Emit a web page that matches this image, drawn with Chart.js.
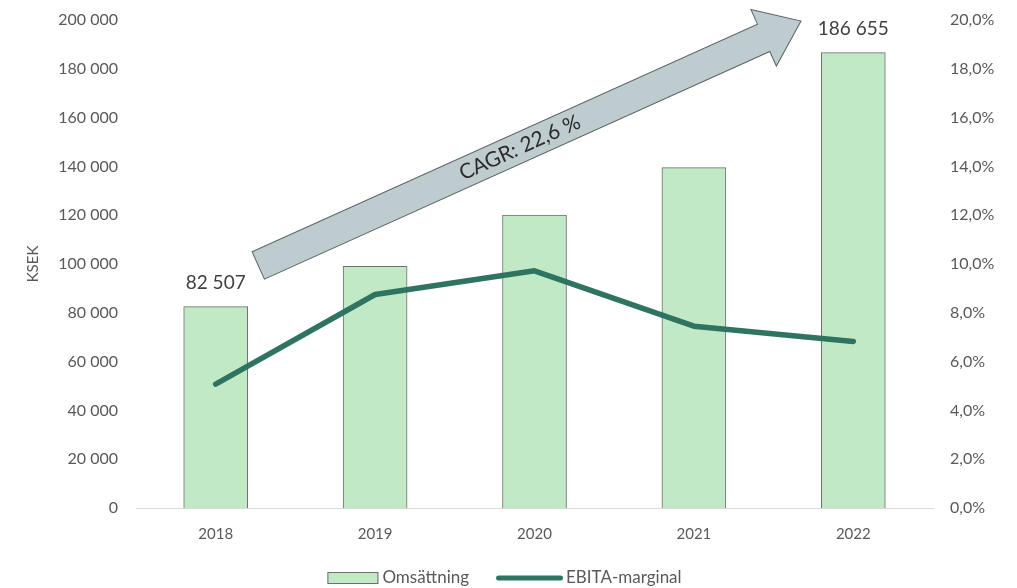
<!DOCTYPE html>
<html lang="sv">
<head>
  <meta charset="UTF-8" />
  <title>Omsättning och EBITA-marginal</title>
  <script src="https://cdn.jsdelivr.net/npm/chart.js"></script>
  <style>
    html, body { margin: 0; padding: 0; background: #fff; }
    #wrap { width: 1017px; height: 588px; }
  </style>
</head>
<body>
  <div id="wrap"><canvas id="chart"></canvas></div>

  <script>
    const years = ['2018', '2019', '2020', '2021', '2022'];
    const revenue = [82507, 99000, 120100, 139500, 186655];
    const ebitaMargin = [5.08, 8.75, 9.72, 7.45, 6.82];
    const revenueTicks = [0, 20000, 40000, 60000, 80000, 100000, 120000, 140000, 160000, 180000, 200000];
    const marginTicks = [0, 2, 4, 6, 8, 10, 12, 14, 16, 18, 20];
    const labelledBars = [0, 4];
    const cagrText = 'CAGR: 22,6 %';

    const FONT = 'Lato, "Noto Sans", sans-serif';
    const TEXT = '#595959';

    function fmtThousands(v) {
      return String(Math.round(v)).replace(/\B(?=(\d{3})+(?!\d))/g, ' ');
    }

    // grå pil med CAGR-text, värden ovanför första/sista stapeln, legend längst ner
    const overlay = {
      id: 'overlay',
      afterDatasetsDraw(chart) {
        const ctx = chart.ctx;
        const x = chart.scales.x, y = chart.scales.y;

        // pilen, ankrad i axlarnas koordinater
        const x0 = x.getPixelForValue(0.267), y0 = y.getPixelForValue(99400);
        const x1 = x.getPixelForValue(3.672), y1 = y.getPixelForValue(199600);
        const len = Math.hypot(x1 - x0, y1 - y0);
        const ang = Math.atan2(y1 - y0, x1 - x0);
        const half = 15, headHalf = 31, headLen = 41;
        ctx.save();
        ctx.translate(x0, y0);
        ctx.rotate(ang);
        ctx.beginPath();
        ctx.moveTo(0, -half);
        ctx.lineTo(len - headLen, -half);
        ctx.lineTo(len - headLen, -headHalf);
        ctx.lineTo(len, 0);
        ctx.lineTo(len - headLen, headHalf);
        ctx.lineTo(len - headLen, half);
        ctx.lineTo(0, half);
        ctx.closePath();
        ctx.fillStyle = '#bfcccf';
        ctx.fill();
        ctx.lineWidth = 1;
        ctx.strokeStyle = '#5b6468';
        ctx.stroke();
        ctx.fillStyle = '#2b2b2b';
        ctx.font = '21px ' + FONT;
        ctx.textAlign = 'center';
        ctx.textBaseline = 'middle';
        ctx.fillText(cagrText, len * 0.482, 0);
        ctx.restore();

        // datavärden
        const meta = chart.getDatasetMeta(0);
        ctx.save();
        ctx.fillStyle = '#404040';
        ctx.font = '19px ' + FONT;
        ctx.textAlign = 'center';
        ctx.textBaseline = 'bottom';
        labelledBars.forEach(i => {
          const bar = meta.data[i];
          ctx.fillText(fmtThousands(revenue[i]), bar.x, bar.y - 14);
        });
        ctx.restore();

        // legend
        const ds = chart.data.datasets;
        ctx.save();
        ctx.font = '17px ' + FONT;
        ctx.textBaseline = 'middle';
        ctx.textAlign = 'left';
        const ly = chart.height - 10;
        const w0 = ctx.measureText(ds[0].label).width;
        const w1 = ctx.measureText(ds[1].label).width;
        const total = 51 + 4 + w0 + 27 + 67 + 3 + w1;
        let lx = (chart.width - total) / 2 - 4;
        ctx.fillStyle = ds[0].backgroundColor;
        ctx.strokeStyle = ds[0].borderColor;
        ctx.lineWidth = 1;
        ctx.fillRect(lx, ly - 6, 51, 12);
        ctx.strokeRect(lx + 0.5, ly - 5.5, 50, 11);
        lx += 55;
        ctx.fillStyle = TEXT;
        ctx.fillText(ds[0].label, lx, ly);
        lx += w0 + 27;
        ctx.strokeStyle = ds[1].borderColor;
        ctx.lineWidth = 5;
        ctx.lineCap = 'round';
        ctx.beginPath();
        ctx.moveTo(lx + 2.5, ly);
        ctx.lineTo(lx + 64.5, ly);
        ctx.stroke();
        lx += 70;
        ctx.fillText(ds[1].label, lx, ly);
        ctx.restore();
      }
    };

    function fitY(width) {
      return s => {
        s.width = width;
        s.paddingTop = 0;
        s.paddingBottom = 0;
      };
    }

    new Chart(document.getElementById('chart'), {
      data: {
        labels: years,
        datasets: [
          {
            type: 'bar',
            label: 'Omsättning',
            data: revenue,
            yAxisID: 'y',
            backgroundColor: '#c2e9c6',
            borderColor: '#6e6e6e',
            borderWidth: 1,
            barThickness: 64,
            order: 1
          },
          {
            type: 'line',
            label: 'EBITA-marginal',
            data: ebitaMargin,
            yAxisID: 'y1',
            borderColor: '#2f7461',
            backgroundColor: '#2f7461',
            borderWidth: 5.5,
            borderCapStyle: 'round',
            borderJoinStyle: 'round',
            pointRadius: 0,
            tension: 0,
            order: 0
          }
        ]
      },
      options: {
        responsive: true,
        maintainAspectRatio: false,
        animation: false,
        layout: { padding: { top: 20, left: 20, right: 0, bottom: 0 } },
        scales: {
          x: {
            grid: { display: false, drawTicks: false },
            border: { display: true, color: '#d9d9d9', width: 1 },
            ticks: { color: TEXT, font: { family: FONT, size: 15 }, padding: 17 },
            afterFit(s) { s.height = 80; }
          },
          y: {
            position: 'left',
            min: 0, max: 200000,
            afterBuildTicks(s) { s.ticks = revenueTicks.map(v => ({ value: v })); },
            grid: { display: false, drawTicks: false },
            border: { display: false },
            ticks: {
              color: TEXT, font: { family: FONT, size: 16 }, padding: 18,
              callback: v => fmtThousands(v)
            },
            title: {
              display: true, text: 'KSEK', color: TEXT,
              font: { family: FONT, size: 15 }, padding: { top: 4, bottom: 0 }
            },
            afterFit: fitY(116)
          },
          y1: {
            position: 'right',
            min: 0, max: 20,
            afterBuildTicks(s) { s.ticks = marginTicks.map(v => ({ value: v })); },
            grid: { display: false, drawTicks: false },
            border: { display: false },
            ticks: {
              color: TEXT, font: { family: FONT, size: 16 }, padding: 17,
              callback: v => v.toFixed(1).replace('.', ',') + '%'
            },
            afterFit: fitY(84)
          }
        },
        plugins: {
          tooltip: { enabled: false },
          legend: { display: false }
        }
      },
      plugins: [overlay]
    });
  </script>
</body>
</html>
